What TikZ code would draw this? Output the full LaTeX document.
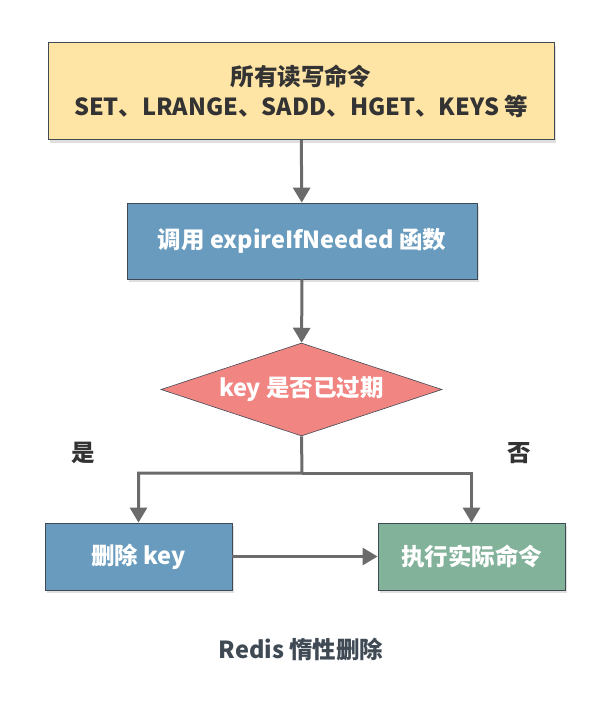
\documentclass[tikz,border=0pt]{standalone}
\usepackage{fontspec}
\setmainfont{Noto Sans CJK SC}
\usetikzlibrary{shapes.geometric,arrows.meta,shadows}
\definecolor{cmdfill}{HTML}{FEE4A5}
\definecolor{callfill}{HTML}{689BBD}
\definecolor{checkfill}{HTML}{F18582}
\definecolor{execfill}{HTML}{83B29A}
\definecolor{edgecol}{HTML}{3F4A55}
\definecolor{linkcol}{HTML}{6B6B6B}
\definecolor{textcol}{HTML}{333333}
\begin{document}
\begin{tikzpicture}
      [
      x=1pt,y=-1pt,
      every node/.style={font=\fontsize{23.5}{30}\selectfont\bfseries},
      box/.style={rectangle,draw=edgecol,line width=0.8pt,inner sep=0pt,align=center,
        drop shadow={shadow xshift=1.5pt,shadow yshift=-3pt,opacity=0.25}},
      decision/.style={diamond,aspect=3.02,draw=edgecol,line width=0.6pt,inner sep=0pt,fill=checkfill,
        text=white,minimum width=281,minimum height=93},
      link/.style={draw=linkcol,line width=3pt,-{Triangle[width=17pt,length=15pt]}},
      answer/.style={text=textcol}
      ]
      \useasboundingbox (0,0) rectangle (606,718);
      \node (cmds) at (301,91) [box,fill=cmdfill,text=textcol,minimum width=506,minimum height=97]
        {所有读写命令\\SET、LRANGE、SADD、HGET、KEYS 等};
      \node (call) at (302,241) [box,fill=callfill,text=white,minimum width=350,minimum height=76]
        {调用 expireIfNeeded 函数};
      \node (check) at (301.5,389.5) [decision] {key 是否已过期};
      \coordinate (fork) at (302,473);
      \node (del) at (138.5,556.5) [box,fill=callfill,text=white,minimum width=187,minimum height=67] {删除 key};
      \node (exec) at (471.5,556.5) [box,fill=execfill,text=white,minimum width=187,minimum height=67] {执行实际命令};
      \node (yes) at (83,453) [answer] {是};
      \node (no) at (519,453) [answer] {否};
      \node (caption) at (301,650) [text=edgecol] {Redis 惰性删除};
      \draw [link] (cmds) to (call);
      \draw [link] (call) to (check);
      \draw [link] (check.south) -- (fork) -| (del.north);
      \draw [link] (fork) -| (exec.north);
      \draw [link] (del) to (exec);
    \end{tikzpicture}
\end{document}
